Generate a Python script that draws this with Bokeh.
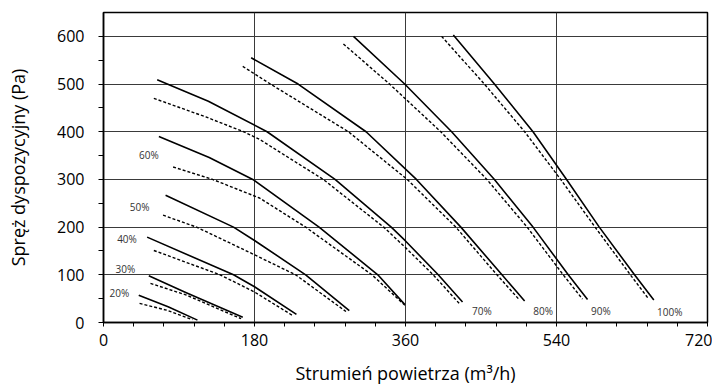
from bokeh.plotting import figure
from bokeh.models import FixedTicker, Range1d, ColumnDataSource
from bokeh.embed import file_html
from bokeh.resources import INLINE
from bokeh.core.properties import value

# ---- tick definitions ----
x_major = [0, 180, 360, 540, 720]
x_minor = [36, 72, 108, 144, 216, 252, 288, 324, 396, 432, 468, 504, 576, 612, 648, 684]
y_major = [0, 100, 200, 300, 400, 500, 600]
y_minor = [50, 150, 250, 350, 450, 550]

# ---- fan curves (air flow m3/h, pressure Pa) ----
x20_solid = [42, 77, 112]
y20_solid = [57, 33, 5]
x20_dash = [43, 75, 106]
y20_dash = [40, 26, 6]

x30_solid = [54, 98, 166]
y30_solid = [98, 63, 11]
x30_dash = [56, 98, 164]
y30_dash = [82, 58, 8]

x40_solid = [52, 155, 180, 230]
y40_solid = [179, 100, 75, 17]
x40_dash = [60, 139, 180, 226]
y40_dash = [151, 100, 64, 14]

x50_solid = [74, 155, 180, 241, 293]
y50_solid = [267, 200, 172, 100, 25]
x50_dash = [71, 111, 180, 229, 289]
y50_dash = [225, 200, 142, 100, 23]

x60_solid = [66, 126, 178, 257, 327, 359]
y60_solid = [390, 346, 300, 200, 100, 38]
x60_dash = [83, 130, 186, 241, 320, 360]
y60_dash = [326, 300, 261, 200, 100, 35]

x70_solid = [64, 76, 125, 195, 276, 343, 360, 399, 428]
y70_solid = [509, 500, 464, 400, 300, 200, 171, 100, 43]
x70_dash = [60, 122, 167, 186, 262, 334, 360, 393, 424]
y70_dash = [470, 431, 400, 384, 300, 200, 157, 100, 40]

x80_solid = [176, 232, 313, 373, 426, 475, 502]
y80_solid = [555, 500, 400, 300, 200, 100, 45]
x80_dash = [166, 199, 292, 362, 420, 469, 496]
y80_dash = [537, 500, 400, 300, 200, 100, 47]

x90_solid = [298, 359, 415, 466, 512, 554, 577]
y90_solid = [600, 500, 400, 300, 200, 100, 48]
x90_dash = [286, 341, 402, 457, 505, 548, 571]
y90_dash = [584, 500, 400, 300, 200, 100, 49]

x100_solid = [417, 466, 512, 552, 591, 633, 656]
y100_solid = [603, 500, 400, 300, 200, 100, 47]
x100_dash = [403, 454, 502, 545, 586, 628, 650]
y100_dash = [600, 500, 400, 300, 200, 100, 49]

# ---- curve labels ----
label_text = ["20%", "30%", "40%", "50%", "60%", "70%", "80%", "90%", "100%"]
label_x = [19, 26, 28, 43, 54, 451, 524, 593, 675]
label_y = [62, 113, 176, 243, 352, 24, 24, 24, 21]

p = figure(width=712, height=388, output_backend="svg", toolbar_location=None,
           x_range=Range1d(0, 720), y_range=Range1d(0, 650),
           min_border_left=103, min_border_right=5, min_border_top=12, min_border_bottom=66)
p.background_fill_color = "white"
p.border_fill_color = "white"
p.outline_line_color = "black"
p.outline_line_width = 1.5

p.xaxis.ticker = FixedTicker(ticks=x_major, minor_ticks=x_minor)
p.yaxis.ticker = FixedTicker(ticks=y_major, minor_ticks=y_minor)
p.xgrid.ticker = FixedTicker(ticks=x_major)
p.ygrid.ticker = FixedTicker(ticks=y_major)
for g in (p.xgrid, p.ygrid):
    g.grid_line_color = "#3a3a3a"
    g.grid_line_width = 1

for ax in (p.xaxis, p.yaxis):
    ax.axis_line_color = "black"
    ax.axis_line_width = 1.5
    ax.major_tick_line_color = "black"
    ax.minor_tick_line_color = "black"
    ax.major_tick_line_width = 1
    ax.minor_tick_line_width = 1
    ax.major_tick_in = 0
    ax.minor_tick_in = 0
    ax.major_label_text_font = "Open Sans"
    ax.major_label_text_font_size = "16px"
    ax.major_label_text_color = "black"
    ax.axis_label_text_font = "Open Sans"
    ax.axis_label_text_font_size = "18px"
    ax.axis_label_text_font_style = "normal"
    ax.axis_label_text_color = "black"

p.yaxis.major_tick_out = 5
p.yaxis.minor_tick_out = 5
p.xaxis.major_tick_out = 4
p.xaxis.minor_tick_out = 4

p.xaxis.axis_label = "Strumień powietrza (m³/h)"
p.yaxis.axis_label = "Spręż dyspozycyjny (Pa)"
p.xaxis.major_label_standoff = 7
p.yaxis.major_label_standoff = 14
p.xaxis.axis_label_standoff = 12
p.yaxis.axis_label_standoff = 24

solids = [(x20_solid, y20_solid), (x30_solid, y30_solid), (x40_solid, y40_solid),
          (x50_solid, y50_solid), (x60_solid, y60_solid), (x70_solid, y70_solid),
          (x80_solid, y80_solid), (x90_solid, y90_solid), (x100_solid, y100_solid)]
dashes = [(x20_dash, y20_dash), (x30_dash, y30_dash), (x40_dash, y40_dash),
          (x50_dash, y50_dash), (x60_dash, y60_dash), (x70_dash, y70_dash),
          (x80_dash, y80_dash), (x90_dash, y90_dash), (x100_dash, y100_dash)]
for xs, ys in solids:
    p.line(xs, ys, line_color="black", line_width=1.6, line_join="round")
for xs, ys in dashes:
    p.line(xs, ys, line_color="black", line_width=1.4, line_dash="3 2", line_join="round")

src = ColumnDataSource(dict(x=label_x, y=label_y, t=label_text))
p.text(x="x", y="y", text="t", source=src, text_font=value("Open Sans"),
       text_font_size="10px", text_color="#333333", text_align="center",
       text_baseline="middle")

open("out.html", "w").write(file_html(p, INLINE))
